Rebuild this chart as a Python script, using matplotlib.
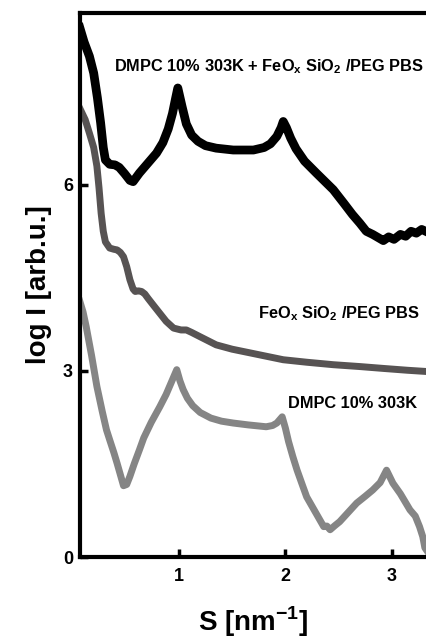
import matplotlib
matplotlib.use("Agg")
import matplotlib.pyplot as plt

plt.rcParams['font.family'] = ['Liberation Sans', 'DejaVu Sans']
plt.rcParams['mathtext.fontset'] = 'custom'
plt.rcParams['mathtext.rm'] = 'Liberation Sans:bold'
plt.rcParams['mathtext.bf'] = 'Liberation Sans:bold'

# curva superior: DMPC + nanoparticulas
s_mix = [0.07, 0.11, 0.16, 0.20, 0.235, 0.265, 0.29, 0.31, 0.35, 0.40, 0.44, 0.49,
         0.54, 0.57, 0.63, 0.71, 0.79, 0.85, 0.90, 0.94, 0.97, 0.99, 1.03, 1.07,
         1.12, 1.18, 1.25, 1.35, 1.51, 1.70, 1.80, 1.86, 1.92, 1.96, 1.98, 2.01,
         2.05, 2.10, 2.18, 2.29, 2.45, 2.55, 2.63, 2.70, 2.76, 2.82, 2.88, 2.92,
         2.97, 3.02, 3.08, 3.13, 3.18, 3.23, 3.28, 3.33]
i_mix = [8.53, 8.30, 8.07, 7.80, 7.40, 7.00, 6.60, 6.40, 6.33, 6.32, 6.28, 6.18,
         6.07, 6.05, 6.19, 6.35, 6.51, 6.68, 6.90, 7.15, 7.40, 7.56, 7.26, 6.98,
         6.80, 6.70, 6.63, 6.59, 6.56, 6.56, 6.60, 6.66, 6.78, 6.92, 7.02, 6.92,
         6.75, 6.58, 6.38, 6.19, 5.92, 5.70, 5.52, 5.38, 5.25, 5.20, 5.14, 5.10,
         5.16, 5.12, 5.20, 5.17, 5.25, 5.22, 5.28, 5.24]

# curva media: nanoparticulas en PBS
s_np = [0.07, 0.12, 0.16, 0.20, 0.23, 0.25, 0.27, 0.29, 0.31, 0.35, 0.39, 0.42,
        0.45, 0.48, 0.51, 0.54, 0.57, 0.59, 0.62, 0.65, 0.68, 0.71, 0.76, 0.82,
        0.88, 0.95, 1.02, 1.07, 1.12, 1.20, 1.35, 1.50, 1.67, 1.98, 2.20, 2.45,
        2.70, 2.92, 3.15, 3.33]
i_np = [7.23, 7.05, 6.83, 6.60, 6.30, 5.95, 5.54, 5.25, 5.08, 4.98, 4.96, 4.95,
        4.91, 4.84, 4.68, 4.47, 4.32, 4.28, 4.29, 4.28, 4.24, 4.17, 4.06, 3.93,
        3.80, 3.69, 3.66, 3.66, 3.62, 3.55, 3.42, 3.35, 3.29, 3.18, 3.14, 3.10,
        3.07, 3.04, 3.01, 2.99]

# curva inferior: DMPC 10% 303K
s_lip = [0.07, 0.10, 0.13, 0.18, 0.23, 0.28, 0.32, 0.35, 0.39, 0.42, 0.45, 0.48,
         0.51, 0.54, 0.58, 0.63, 0.67, 0.74, 0.82, 0.88, 0.92, 0.95, 0.98, 1.01,
         1.04, 1.08, 1.13, 1.20, 1.30, 1.40, 1.51, 1.65, 1.82, 1.88, 1.92, 1.95,
         1.97, 2.00, 2.03, 2.07, 2.11, 2.16, 2.20, 2.25, 2.29, 2.33, 2.36, 2.39,
         2.42, 2.46, 2.51, 2.59, 2.67, 2.75, 2.82, 2.89, 2.95, 3.01, 3.08, 3.17,
         3.22, 3.26, 3.29, 3.31, 3.33]
i_lip = [4.12, 3.95, 3.71, 3.25, 2.75, 2.35, 2.05, 1.89, 1.68, 1.51, 1.33, 1.15,
         1.17, 1.30, 1.50, 1.73, 1.92, 2.17, 2.42, 2.62, 2.78, 2.90, 3.02, 2.84,
         2.70, 2.56, 2.44, 2.33, 2.24, 2.19, 2.16, 2.13, 2.10, 2.12, 2.16, 2.22,
         2.26, 2.08, 1.86, 1.62, 1.40, 1.16, 0.97, 0.82, 0.70, 0.58, 0.49, 0.50,
         0.44, 0.50, 0.57, 0.72, 0.87, 0.98, 1.08, 1.20, 1.40, 1.19, 1.02, 0.76,
         0.66, 0.49, 0.33, 0.15, 0.10]

fig = plt.figure(figsize=(4.27, 6.44), dpi=100)
ax = fig.add_axes([0.187, 0.135, 0.813, 0.845])

ax.plot(s_lip, i_lip, color='#858585', lw=5, solid_joinstyle='round')
ax.plot(s_np, i_np, color='#575353', lw=5, solid_joinstyle='round')
ax.plot(s_mix, i_mix, color='black', lw=6.3, solid_joinstyle='round')

ax.set_xlim(0.07, 3.33)
ax.set_ylim(0, 8.77)
ax.set_xticks([1, 2, 3])
ax.set_yticks([0, 3, 6])
ax.tick_params(direction='in', length=6, width=2.5, labelsize=13)
ax.tick_params(axis='x', pad=8)
ax.tick_params(axis='y', pad=5)
for lab in ax.get_xticklabels() + ax.get_yticklabels():
    lab.set_fontweight('bold')
for side in ['left', 'bottom', 'top']:
    ax.spines[side].set_linewidth(3)
ax.spines['right'].set_visible(False)

ax.set_ylabel("log I [arb.u.]", fontsize=20, fontweight='bold', labelpad=8)
ax.set_xlabel(r"S [nm$^{\mathbf{-1}}$]", fontsize=20, fontweight='bold', labelpad=14)

W, H = 427.0, 644.0
fig.text(114 / W, 1 - 67 / H, r"DMPC 10% 303K + FeO$_{\mathbf{x}}$ SiO$_{\mathbf{2}}$ /PEG PBS",
         fontsize=11.8, fontweight='bold', va='center', ha='left')
fig.text(258 / W, 1 - 314 / H, r"FeO$_{\mathbf{x}}$ SiO$_{\mathbf{2}}$ /PEG PBS",
         fontsize=11.8, fontweight='bold', va='center', ha='left')
fig.text(288 / W, 1 - 403 / H, "DMPC 10% 303K",
         fontsize=11.8, fontweight='bold', va='center', ha='left')

fig.savefig("out.png", dpi=100)
